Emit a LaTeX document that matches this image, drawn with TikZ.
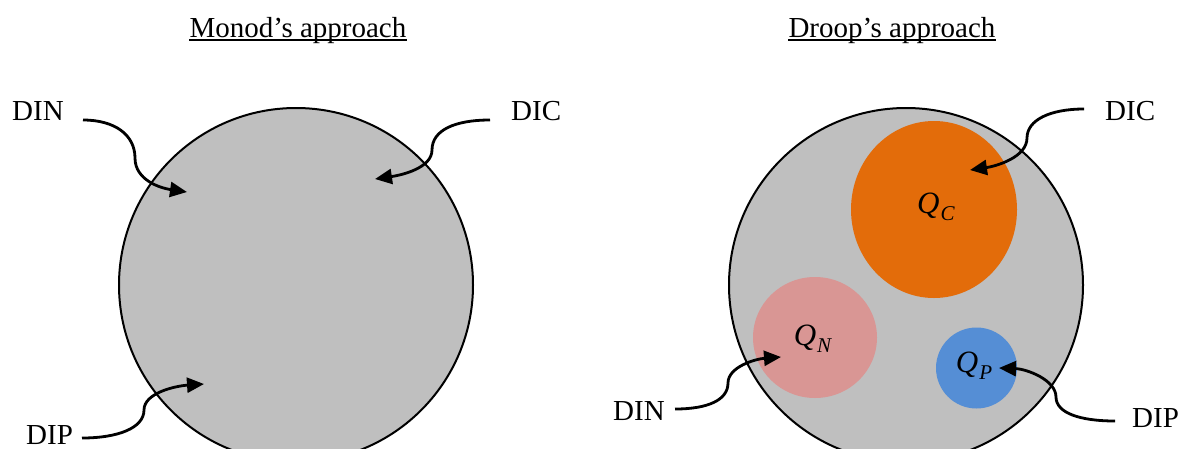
\documentclass[tikz,border=0pt]{standalone}
\usepackage{fontspec}
\setmainfont{Liberation Serif}
\usetikzlibrary{arrows.meta,shapes.geometric}
\definecolor{cellgray}{HTML}{BFBFBF}
\definecolor{qcorange}{HTML}{E36C0A}
\definecolor{qnpink}{HTML}{D99694}
\definecolor{qpblue}{HTML}{558ED5}
\newcommand{\poolq}[1]{\textit{Q}\kern1pt\raisebox{-7pt}{\fontsize{21}{24}\selectfont\textit{#1}}}
\tikzset{
  lbl/.style={inner sep=0pt, anchor=base west, font=\fontsize{29}{34}\selectfont},
  ttl/.style={inner sep=0pt, anchor=base, font=\fontsize{29}{34}\selectfont},
  qlbl/.style={inner sep=0pt, font=\fontsize{31}{36}\selectfont},
  cell/.style={draw=black, line width=2pt, fill=cellgray},
  uptake/.style={line width=2.8pt, -{Triangle[length=17pt,width=15pt]}},
  uline/.style={line width=1.4pt}
}
\begin{document}
\begin{tikzpicture}[x=1pt,y=-1pt]
\useasboundingbox (0,0) rectangle (1186,448);
% titles
\node[ttl] (t1) at (298,37) {Monod’s approach};
\node[ttl] (t2) at (892,37) {Droop’s approach};
\draw[uline] ([yshift=-3pt]t1.base west) -- ([yshift=-3pt]t1.base east);
\draw[uline] ([yshift=-3pt]t2.base west) -- ([yshift=-3pt]t2.base east);
% cells
\node[cell, circle, minimum size=354pt, inner sep=0pt] (c1) at (296,285) {};
\node[cell, circle, minimum size=354pt, inner sep=0pt] (c2) at (906,285) {};
% pools
\node[fill=qcorange, ellipse, minimum width=166pt, minimum height=177pt, inner sep=0pt] (qc) at (934,209.5) {};
\node[fill=qnpink, ellipse, minimum width=124pt, minimum height=121pt, inner sep=0pt] (qn) at (815,337.5) {};
\node[fill=qpblue, circle, minimum size=81pt, inner sep=0pt] (qp) at (976.5,368) {};
\node[qlbl] (qcl) at (936,207) {\poolq{C}};
\node[qlbl] (qnl) at (813,339) {\poolq{N}};
\node[qlbl] (qpl) at (974,366) {\poolq{P}};
% labels
\node[lbl] (din1) at (12,120) {DIN};
\node[lbl] (dic1) at (511,120) {DIC};
\node[lbl] (dip1) at (26,444) {DIP};
\node[lbl] (dic2) at (1105,120) {DIC};
\node[lbl] (din2) at (613,420) {DIN};
\node[lbl] (dip2) at (1132,427) {DIP};
% arrow coordinates
\coordinate (s1) at (83,120);   \coordinate (e1) at (187,192);
\coordinate (s2) at (490,120);  \coordinate (e2) at (375,179);
\coordinate (s3) at (82,438);   \coordinate (e3) at (204,384);
\coordinate (s4) at (1084,109); \coordinate (e4) at (970,170);
\coordinate (s5) at (675,409);  \coordinate (e5) at (781,357);
\coordinate (s6) at (1115,421); \coordinate (e6) at (999,368);
% arrows
\draw[uptake] (s1) .. controls (115,120) and (135,135) .. (135,158) .. controls (135,180) and (160,188) .. (e1);
\draw[uptake] (s2) .. controls (455,120) and (432,130) .. (432,150) .. controls (432,168) and (402,175) .. (e2);
\draw[uptake] (s3) .. controls (118,438) and (144,428) .. (144,410) .. controls (144,393) and (175,386) .. (e3);
\draw[uptake] (s4) .. controls (1050,109) and (1027,120) .. (1027,138) .. controls (1027,157) and (997,166) .. (e4);
\draw[uptake] (s5) .. controls (708,409) and (728,400) .. (728,383) .. controls (728,367) and (755,359) .. (e5);
\draw[uptake] (s6) .. controls (1080,421) and (1056,413) .. (1056,397) .. controls (1056,380) and (1027,369) .. (e6);
\end{tikzpicture}
\end{document}
